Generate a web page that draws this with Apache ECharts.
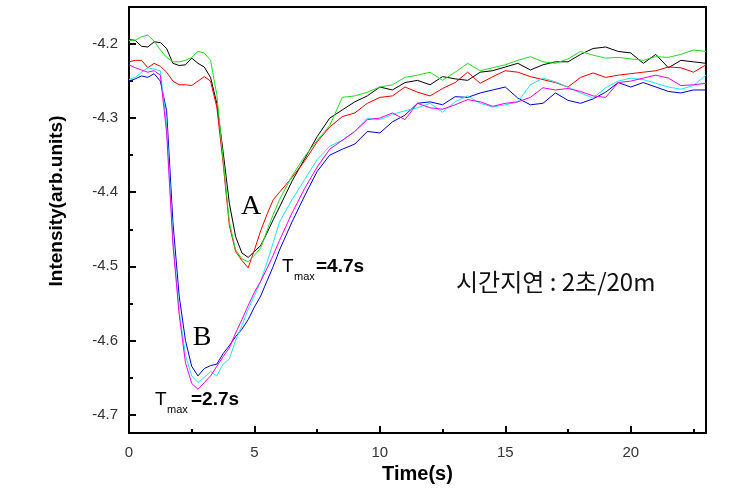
<!DOCTYPE html>
<html>
<head>
<meta charset="utf-8">
<script src="https://cdn.jsdelivr.net/npm/echarts@6.0.0/dist/echarts.min.js"></script>
<style>
  html, body { margin: 0; padding: 0; background: #fff; }
  #chart { width: 748px; height: 499px; }
</style>
</head>
<body>
<div id="chart"></div>
<script>
// time axis (s)
const times = [0, 0.25, 0.5, 0.75, 1, 1.25, 1.5, 1.75, 2, 2.25, 2.5, 2.75, 3, 3.25, 3.5, 3.75, 4, 4.25, 4.5, 4.75, 5, 5.25, 5.5, 5.75, 6,
  6.5, 7, 7.5, 8, 8.5, 9, 9.5, 10, 10.5, 11, 11.5, 12, 12.5, 13, 13.5, 14, 14.5, 15, 15.5, 16, 16.5, 17, 17.5, 18, 18.5, 19, 19.5, 20, 20.5, 21, 21.5, 22, 22.5, 23];

// group A (Tmax = 4.7s)
const blackA = [-4.194, -4.195, -4.203, -4.204, -4.197, -4.198, -4.206, -4.226, -4.229, -4.228, -4.219, -4.226, -4.231, -4.245, -4.28, -4.345, -4.415, -4.46, -4.482, -4.488, -4.48, -4.472, -4.455, -4.437, -4.42,
  -4.385, -4.355, -4.325, -4.3, -4.289, -4.278, -4.27, -4.258, -4.262, -4.252, -4.249, -4.255, -4.244, -4.247, -4.249, -4.238, -4.236, -4.231, -4.226, -4.235, -4.228, -4.224, -4.224, -4.214, -4.206, -4.204, -4.21, -4.212, -4.226, -4.214, -4.232, -4.222, -4.224, -4.226];
const greenA = [-4.195, -4.195, -4.19, -4.188, -4.196, -4.208, -4.218, -4.224, -4.224, -4.222, -4.218, -4.21, -4.212, -4.222, -4.268, -4.355, -4.44, -4.478, -4.49, -4.494, -4.485, -4.475, -4.452, -4.43, -4.41,
  -4.378, -4.352, -4.33, -4.31, -4.272, -4.27, -4.265, -4.258, -4.255, -4.245, -4.242, -4.238, -4.249, -4.238, -4.226, -4.236, -4.232, -4.228, -4.222, -4.217, -4.224, -4.226, -4.22, -4.21, -4.215, -4.219, -4.218, -4.22, -4.222, -4.217, -4.218, -4.214, -4.208, -4.21];
const redA = [-4.224, -4.222, -4.222, -4.232, -4.226, -4.23, -4.238, -4.25, -4.255, -4.255, -4.256, -4.25, -4.244, -4.25, -4.285, -4.36, -4.445, -4.48, -4.492, -4.502, -4.478, -4.452, -4.43, -4.41, -4.4,
  -4.38, -4.358, -4.332, -4.312, -4.298, -4.293, -4.28, -4.272, -4.27, -4.258, -4.265, -4.27, -4.26, -4.252, -4.238, -4.253, -4.244, -4.236, -4.238, -4.244, -4.248, -4.252, -4.258, -4.245, -4.239, -4.245, -4.242, -4.24, -4.238, -4.236, -4.231, -4.232, -4.238, -4.228];

// group B (Tmax = 2.7s)
const blueB = [-4.25, -4.247, -4.243, -4.245, -4.24, -4.25, -4.29, -4.44, -4.54, -4.6, -4.635, -4.648, -4.638, -4.634, -4.632, -4.618, -4.607, -4.595, -4.585, -4.572, -4.555, -4.54, -4.52, -4.5, -4.478,
  -4.44, -4.405, -4.372, -4.35, -4.342, -4.335, -4.318, -4.32, -4.305, -4.296, -4.28, -4.278, -4.282, -4.271, -4.272, -4.266, -4.262, -4.258, -4.273, -4.282, -4.28, -4.266, -4.276, -4.28, -4.274, -4.265, -4.252, -4.258, -4.252, -4.258, -4.264, -4.266, -4.262, -4.262];
const magentaB = [-4.228, -4.232, -4.235, -4.238, -4.236, -4.242, -4.32, -4.47, -4.565, -4.63, -4.658, -4.666, -4.657, -4.648, -4.635, -4.622, -4.61, -4.59, -4.572, -4.553, -4.535, -4.52, -4.503, -4.485, -4.465,
  -4.428, -4.395, -4.366, -4.342, -4.33, -4.318, -4.302, -4.3, -4.293, -4.302, -4.28, -4.286, -4.288, -4.282, -4.275, -4.278, -4.284, -4.28, -4.278, -4.272, -4.259, -4.262, -4.26, -4.264, -4.27, -4.272, -4.252, -4.25, -4.246, -4.242, -4.246, -4.256, -4.255, -4.253];
const cyanB = [-4.248, -4.245, -4.238, -4.232, -4.234, -4.236, -4.31, -4.465, -4.56, -4.62, -4.648, -4.657, -4.65, -4.642, -4.648, -4.632, -4.625, -4.6, -4.58, -4.558, -4.54, -4.52, -4.495, -4.468, -4.44,
  -4.41, -4.383, -4.356, -4.338, -4.33, -4.318, -4.3, -4.302, -4.295, -4.29, -4.286, -4.28, -4.292, -4.278, -4.27, -4.28, -4.285, -4.282, -4.278, -4.255, -4.246, -4.251, -4.258, -4.266, -4.273, -4.259, -4.25, -4.246, -4.248, -4.253, -4.258, -4.261, -4.256, -4.242];

const xMin = 0, xMax = 23;
const yMin = -4.725, yMax = -4.15;

let font = '"Liberation Sans", Arial, sans-serif';
let chart = echarts.init(document.getElementById('chart'), null, { renderer: 'canvas' });

function pairs(vals) {
  return times.map(function (t, i) { return [t, vals[i]]; });
}

function line(name, vals, color) {
  return {
    name: name,
    type: 'line',
    xAxisIndex: 0,
    yAxisIndex: 0,
    data: pairs(vals),
    showSymbol: false,
    symbol: 'none',
    lineStyle: { color: color, width: 1 },
    itemStyle: { color: color },
    animation: false
  };
}

let axisLine = { show: true, lineStyle: { color: '#000', width: 2 } };

let option = {
  backgroundColor: '#fff',
  animation: false,
  grid: {
    left: 129, top: 7, right: 42, bottom: 66,
    show: true, borderColor: '#000', borderWidth: 2, backgroundColor: 'transparent'
  },
  xAxis: [
    {   // major ticks + labels
      type: 'value', min: xMin, max: xMax, interval: 5, position: 'bottom',
      name: 'Time(s)', nameLocation: 'middle', nameGap: 30,
      nameTextStyle: { fontFamily: font, fontWeight: 'bold', fontSize: 20, color: '#000' },
      axisLine: axisLine,
      axisTick: { show: true, inside: true, length: 7, lineStyle: { color: '#000', width: 2 } },
      axisLabel: { margin: 12, fontFamily: font, fontSize: 15, color: '#333', showMaxLabel: false },
      splitLine: { show: false }
    },
    {   // minor ticks
      type: 'value', min: xMin, max: xMax, interval: 2.5, position: 'bottom',
      axisLine: { show: false },
      axisTick: { show: true, inside: true, length: 4, lineStyle: { color: '#000', width: 2 } },
      axisLabel: { show: false },
      splitLine: { show: false }
    }
  ],
  yAxis: [
    {
      type: 'value', min: yMin, max: yMax, splitNumber: 5, position: 'left',
      axisLine: axisLine,
      axisTick: { show: true, inside: true, length: 7, lineStyle: { color: '#000', width: 2 } },
      axisLabel: {
        margin: 11, fontFamily: font, fontSize: 15, color: '#333',
        showMinLabel: false, showMaxLabel: false,
        formatter: function (v) { return v.toFixed(1); }
      },
      splitLine: { show: false }
    },
    {
      type: 'value', min: yMin, max: yMax, splitNumber: 11, position: 'left',
      axisLine: { show: false },
      axisTick: { show: true, inside: true, length: 4, lineStyle: { color: '#000', width: 2 } },
      axisLabel: { show: false },
      splitLine: { show: false }
    }
  ],
  series: [
    line('A-black', blackA, '#000000'),
    line('A-red', redA, '#ee0000'),
    line('A-green', greenA, '#22dd22'),
    line('B-blue', blueB, '#0000cc'),
    line('B-cyan', cyanB, '#22e6e6'),
    line('B-magenta', magentaB, '#ee00ee')
  ],
  graphic: [
    { type: 'text', x: 57, y: 201, rotation: Math.PI / 2,
      style: { text: 'Intensity(arb.units)', font: 'bold 19px ' + font, fill: '#000', textAlign: 'center', textVerticalAlign: 'middle' } },
    { type: 'text', x: 251, y: 207,
      style: { text: 'A', font: '28px "Liberation Serif", "Times New Roman", serif', fill: '#000', textAlign: 'center', textVerticalAlign: 'middle' } },
    { type: 'text', x: 202, y: 338,
      style: { text: 'B', font: '28px "Liberation Serif", "Times New Roman", serif', fill: '#000', textAlign: 'center', textVerticalAlign: 'middle' } },
    // T_max = 4.7s
    { type: 'text', x: 282, y: 267,
      style: { text: 'T', font: '19px ' + font, fill: '#000', textAlign: 'left', textVerticalAlign: 'middle' } },
    { type: 'text', x: 294, y: 277,
      style: { text: 'max', font: '11px ' + font, fill: '#000', textAlign: 'left', textVerticalAlign: 'middle' } },
    { type: 'text', x: 316, y: 267,
      style: { text: '=4.7s', font: 'bold 19px ' + font, fill: '#000', textAlign: 'left', textVerticalAlign: 'middle' } },
    // T_max = 2.7s
    { type: 'text', x: 155, y: 400,
      style: { text: 'T', font: '19px ' + font, fill: '#000', textAlign: 'left', textVerticalAlign: 'middle' } },
    { type: 'text', x: 167, y: 410,
      style: { text: 'max', font: '11px ' + font, fill: '#000', textAlign: 'left', textVerticalAlign: 'middle' } },
    { type: 'text', x: 191, y: 400,
      style: { text: '=2.7s', font: 'bold 19px ' + font, fill: '#000', textAlign: 'left', textVerticalAlign: 'middle' } },
    { type: 'text', x: 456, y: 282,
      style: { text: '시간지연 : 2초/20m', font: '24px "Noto Sans CJK KR", sans-serif', fill: '#111', textAlign: 'left', textVerticalAlign: 'middle' } }
  ]
};

chart.setOption(option);
</script>
</body>
</html>
